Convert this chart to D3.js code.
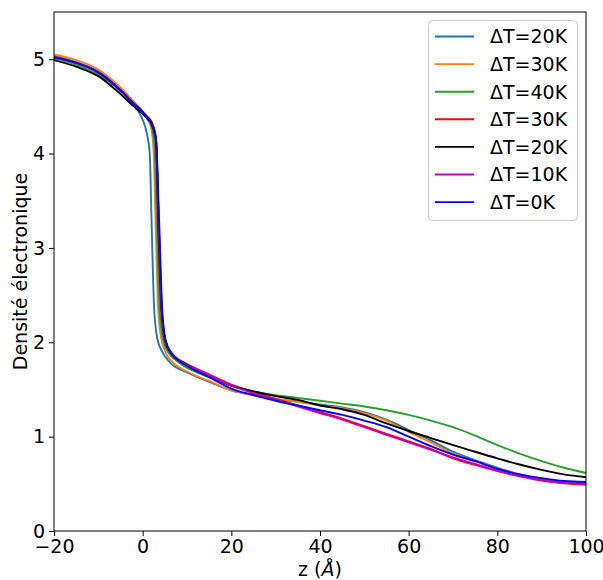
<!DOCTYPE html>
<html><head><meta charset="utf-8">
<script src="https://cdn.jsdelivr.net/npm/d3@7"></script>
<style>body{margin:0;background:#fff}svg{display:block}text{font-family:"DejaVu Sans",sans-serif}</style>
</head><body><svg id="c" width="603" height="580"></svg>
<script>
// ---- data (z in Å, electron density) ----
const labels = ["ΔT=20K","ΔT=30K","ΔT=40K","ΔT=30K","ΔT=20K","ΔT=10K","ΔT=0K"];
const xTicks = [-20,0,20,40,60,80,100];
const yTicks = [0,1,2,3,4,5];
const s20a = [[-20,5.04],[-15,4.97],[-10,4.87],[-5,4.68],[-2,4.51],[-1,4.45],[0,4.36],[1,4.2],[1.6,4.0],[2.0,3.3],[2.6,2.35],[3.3,2.04],[4.4,1.9],[6.3,1.78],[10,1.68],[15,1.58],[20,1.49],[25,1.44],[30,1.40],[35,1.37],[40,1.34],[45,1.31],[50,1.26],[55,1.18],[60,1.07],[65,0.96],[70,0.84],[75,0.75],[80,0.67],[85,0.60],[90,0.55],[95,0.52],[100,0.50]];
const s30a = [[-20,5.05],[-15,4.99],[-10,4.89],[-5,4.70],[-2,4.55],[0,4.45],[1,4.38],[2,4.25],[2.5,4.0],[2.9,3.3],[3.5,2.35],[4.2,2.04],[5.2,1.89],[7,1.78],[10,1.69],[15,1.59],[20,1.49],[25,1.44],[30,1.40],[35,1.37],[40,1.33],[45,1.30],[50,1.25],[55,1.17],[60,1.05],[65,0.94],[70,0.82],[75,0.74],[80,0.66],[85,0.60],[90,0.54],[95,0.51],[100,0.50]];
const s40 = [[-20,5.01],[-15,4.94],[-10,4.84],[-5,4.66],[-2,4.52],[0,4.43],[1,4.38],[2,4.30],[2.7,4.05],[3.2,3.3],[3.8,2.35],[4.6,2.03],[5.8,1.89],[7.5,1.81],[10,1.73],[15,1.63],[20,1.54],[25,1.48],[30,1.44],[35,1.41],[40,1.38],[45,1.35],[50,1.32],[55,1.28],[60,1.23],[65,1.17],[70,1.10],[75,1.01],[80,0.91],[85,0.82],[90,0.74],[95,0.67],[100,0.615]];
const s30b = [[-20,5.02],[-15,4.96],[-10,4.86],[-5,4.67],[-2,4.53],[0,4.44],[1,4.39],[2,4.33],[3.0,4.15],[3.6,3.3],[4.3,2.35],[5.1,2.02],[6.3,1.9],[7.5,1.84],[10,1.77],[15,1.66],[20,1.55],[25,1.47],[30,1.40],[35,1.33],[40,1.26],[45,1.19],[50,1.11],[55,1.03],[60,0.95],[65,0.87],[70,0.77],[75,0.70],[80,0.635],[85,0.58],[90,0.535],[95,0.505],[100,0.49]];
const s20b = [[-20,4.99],[-15,4.92],[-10,4.82],[-5,4.63],[-2,4.50],[0,4.42],[1,4.37],[2,4.31],[3.0,4.13],[3.5,3.3],[4.2,2.35],[5.0,2.02],[6.3,1.89],[7.5,1.83],[10,1.76],[15,1.64],[20,1.54],[25,1.48],[30,1.43],[35,1.39],[40,1.33],[45,1.29],[50,1.23],[55,1.14],[60,1.06],[65,0.985],[70,0.91],[75,0.84],[80,0.77],[85,0.705],[90,0.648],[95,0.60],[100,0.57]];
const s10 = [[-20,5.02],[-15,4.96],[-10,4.86],[-5,4.67],[-2,4.53],[0,4.44],[1,4.39],[2,4.33],[3.0,4.15],[3.6,3.3],[4.3,2.35],[5.1,2.02],[6.3,1.9],[7.5,1.83],[10,1.76],[15,1.65],[20,1.54],[25,1.46],[30,1.39],[35,1.32],[40,1.25],[45,1.18],[50,1.10],[55,1.02],[60,0.94],[65,0.86],[70,0.78],[75,0.71],[80,0.64],[85,0.585],[90,0.54],[95,0.51],[100,0.50]];
const s0 = [[-20,5.02],[-15,4.96],[-10,4.86],[-5,4.67],[-2,4.53],[0,4.44],[1,4.39],[2,4.33],[3.0,4.16],[3.7,3.3],[4.4,2.35],[5.2,2.02],[6.5,1.88],[8,1.81],[10,1.75],[15,1.63],[20,1.51],[25,1.44],[30,1.38],[35,1.33],[40,1.28],[45,1.23],[50,1.17],[55,1.10],[60,1.00],[65,0.90],[70,0.81],[75,0.74],[80,0.66],[85,0.60],[90,0.56],[95,0.53],[100,0.52]];
const seriesData = [s20a,s30a,s40,s30b,s20b,s10,s0];
const colors = ["#1f77b4","#ff7f0e","#2ca02c","#ff0000","#000000","#bf00bf","#0000ff"];

// ---- layout ----
const svg = d3.select("#c");
const L=54, R=586, T=12, B=531;
const x = d3.scaleLinear().domain([-20,100]).range([L,R]);
const y = d3.scaleLinear().domain([0,5.5]).range([B,T]);
const fs = 19;

const defs = svg.append("defs");
defs.append("clipPath").attr("id","clip").append("rect").attr("x",L).attr("y",T).attr("width",R-L).attr("height",B-T);

const line = d3.line().x(d=>x(d[0])).y(d=>y(d[1])).curve(d3.curveMonotoneX);
const g = svg.append("g").attr("clip-path","url(#clip)");
seriesData.forEach((s,i)=>{
  g.append("path").attr("d",line(s)).attr("fill","none").attr("stroke",colors[i]).attr("stroke-width",1.9).attr("stroke-linejoin","round");
});

// axes
const fmt = d3.format("d");
const xa = svg.append("g").attr("transform",`translate(0,${B})`).call(d3.axisBottom(x).tickValues(xTicks).tickFormat(d=>fmt(d)).tickSize(5).tickPadding(4));
const ya = svg.append("g").attr("transform",`translate(${L},0)`).call(d3.axisLeft(y).tickValues(yTicks).tickFormat(d=>fmt(d)).tickSize(5).tickPadding(4));
[xa,ya].forEach(a=>{
  a.select(".domain").remove();
  a.selectAll("line").attr("stroke","#000").attr("stroke-width",1);
  a.selectAll("text").attr("font-size",fs).attr("fill","#000").style("font-family","DejaVu Sans");
});
// frame
svg.append("rect").attr("x",L).attr("y",T).attr("width",R-L).attr("height",B-T).attr("fill","none").attr("stroke","#000").attr("stroke-width",1);

// axis labels
const xl = svg.append("text").attr("x",(L+R)/2).attr("y",576).attr("text-anchor","middle").attr("font-size",fs).attr("fill","#000");
xl.append("tspan").text("z (");
xl.append("tspan").attr("font-style","italic").text("Å");
xl.append("tspan").text(")");
svg.append("text").attr("transform",`translate(27,${(T+B)/2}) rotate(-90)`).attr("text-anchor","middle").attr("font-size",fs).attr("fill","#000").text("Densité électronique");

// legend
const lg = svg.append("g");
lg.append("rect").attr("x",428.5).attr("y",20.5).attr("width",149).attr("height",200).attr("rx",4).attr("fill","#fff").attr("fill-opacity",0.8).attr("stroke","#ccc").attr("stroke-width",1);
labels.forEach((t,i)=>{
  const yy = 36.5 + i*27.6;
  lg.append("line").attr("x1",435).attr("x2",474).attr("y1",yy).attr("y2",yy).attr("stroke",colors[i]).attr("stroke-width",1.9);
  lg.append("text").attr("x",490).attr("y",yy).attr("dy","0.36em").attr("font-size",fs).attr("fill","#000").text(t);
});
</script></body></html>
